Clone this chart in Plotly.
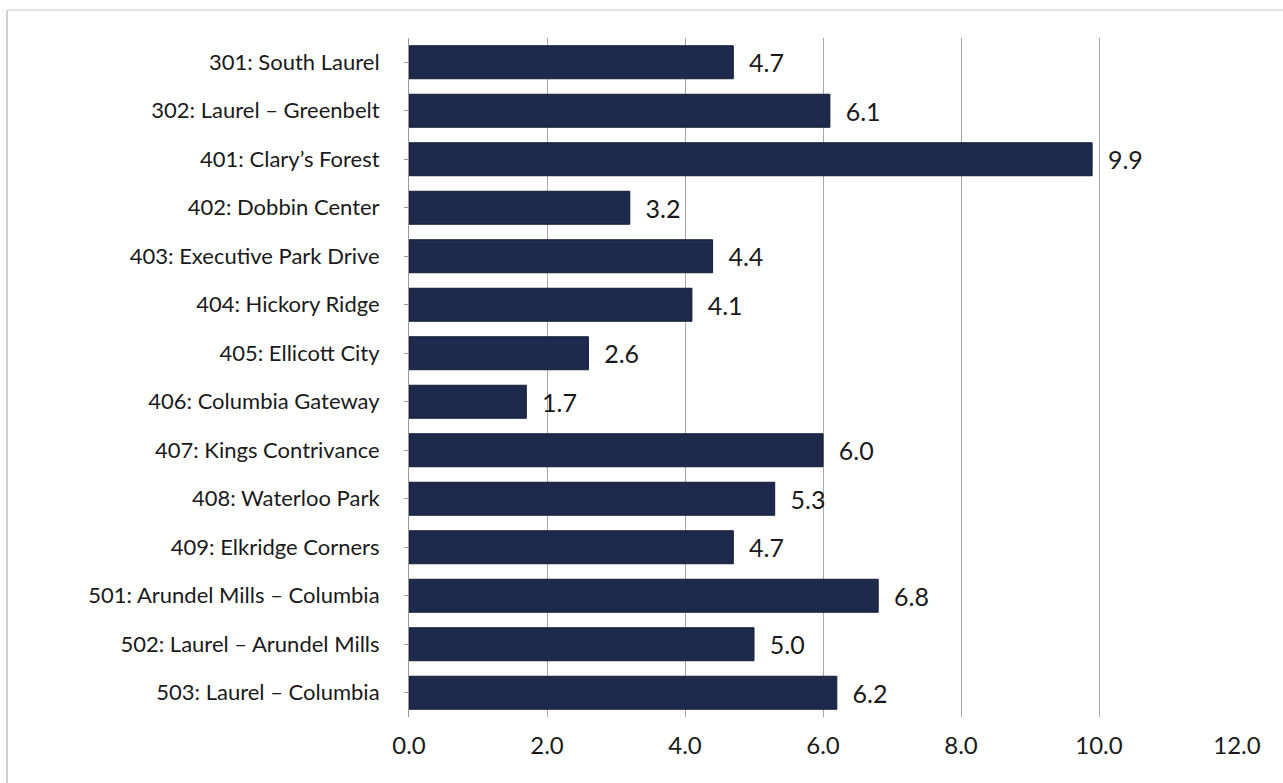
import plotly.graph_objects as go

# Route names (top to bottom) and their values
routes = [
    "301: South Laurel",
    "302: Laurel – Greenbelt",
    "401: Clary’s Forest",
    "402: Dobbin Center",
    "403: Executive Park Drive",
    "404: Hickory Ridge",
    "405: Ellicott City",
    "406: Columbia Gateway",
    "407: Kings Contrivance",
    "408: Waterloo Park",
    "409: Elkridge Corners",
    "501: Arundel Mills – Columbia",
    "502: Laurel – Arundel Mills",
    "503: Laurel – Columbia",
]
values = [4.7, 6.1, 9.9, 3.2, 4.4, 4.1, 2.6, 1.7, 6.0, 5.3, 4.7, 6.8, 5.0, 6.2]
x_ticks = [0, 2, 4, 6, 8, 10, 12]
x_tick_labels = ["0.0", "2.0", "4.0", "6.0", "8.0", "10.0", "12.0"]

font_family = "Lato, Noto Sans, DejaVu Sans, sans-serif"

fig = go.Figure(
    go.Bar(
        x=values,
        y=routes,
        orientation="h",
        marker=dict(color="#1d2a4b", line=dict(color="#141d36", width=1)),
        text=values,
        texttemplate="  %{x:.1f}",
        textposition="outside",
        cliponaxis=False,
        textfont=dict(size=25, color="#1a1a1a", family=font_family),
    )
)

fig.update_layout(
    width=1283,
    height=783,
    margin=dict(l=409, r=46, t=38, b=66),
    paper_bgcolor="white",
    plot_bgcolor="white",
    bargap=0.32,
    showlegend=False,
    font=dict(family=font_family, size=22, color="#1a1a1a"),
    xaxis=dict(
        range=[0, 12],
        tickvals=x_ticks,
        ticktext=x_tick_labels,
        showgrid=True,
        gridcolor="#a8a8a8",
        gridwidth=1,
        zeroline=False,
        showline=False,
        ticks="",
        tickfont=dict(size=24),
        ticklabelstandoff=12,
    ),
    yaxis=dict(
        categoryorder="array",
        categoryarray=routes[::-1],
        showline=True,
        linecolor="#9a9a9a",
        linewidth=1,
        ticks="outside",
        ticklen=4,
        tickcolor="#9a9a9a",
        showgrid=False,
        tickfont=dict(size=22),
        ticklabelstandoff=20,
    ),
    shapes=[
        # outer frame along the left and top edges
        dict(type="line", xref="paper", yref="paper", x0=-402 / 828, x1=-402 / 828,
             y0=-1, y1=(679 + 28) / 679, line=dict(color="#a0a0a0", width=1)),
        dict(type="line", xref="paper", yref="paper", x0=-402 / 828, x1=1.2,
             y0=(679 + 28) / 679, y1=(679 + 28) / 679, line=dict(color="#c8c8c8", width=1)),
    ],
)

fig.write_html("out.html")
